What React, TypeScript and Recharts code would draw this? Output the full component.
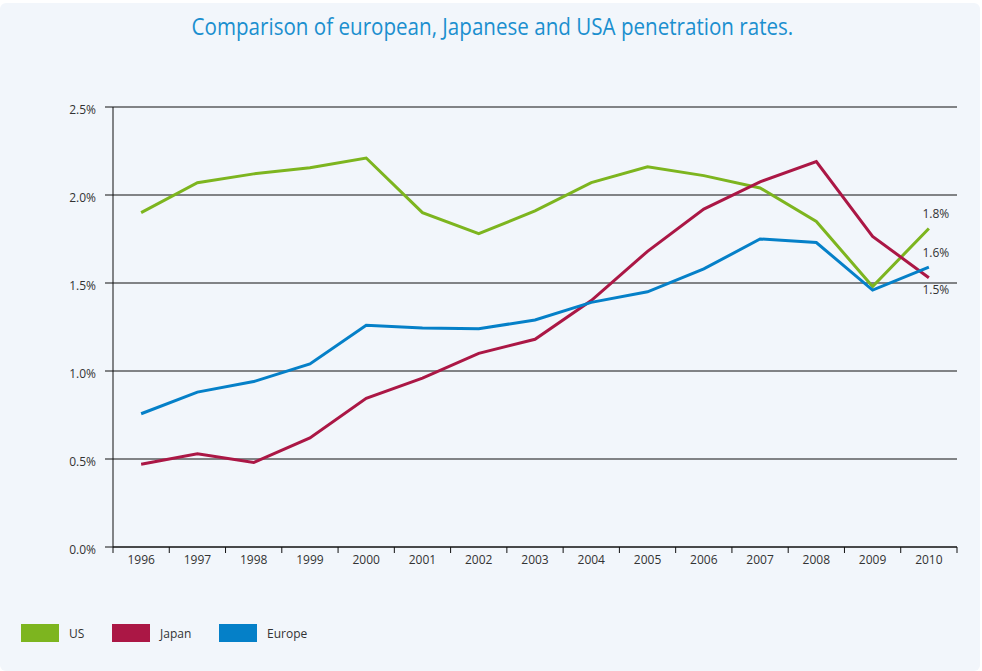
import React from 'react';
import { LineChart, Line, XAxis, YAxis, CartesianGrid, Legend } from 'recharts';

const years = ['1996', '1997', '1998', '1999', '2000', '2001', '2002', '2003', '2004', '2005', '2006', '2007', '2008', '2009', '2010'];
const usRates = [1.9, 2.07, 2.12, 2.155, 2.21, 1.9, 1.78, 1.91, 2.07, 2.16, 2.11, 2.04, 1.85, 1.48, 1.81];
const japanRates = [0.47, 0.53, 0.48, 0.62, 0.845, 0.96, 1.1, 1.18, 1.4, 1.68, 1.92, 2.075, 2.19, 1.765, 1.53];
const europeRates = [0.757, 0.88, 0.94, 1.04, 1.26, 1.245, 1.24, 1.29, 1.39, 1.45, 1.58, 1.75, 1.73, 1.46, 1.59];
const yTicks = [0, 0.5, 1, 1.5, 2, 2.5];
const seriesNames = { us: 'US', japan: 'Japan', europe: 'Europe' };
const endLabels = { us: '1.8%', japan: '1.5%', europe: '1.6%' };
const title = 'Comparison of european, Japanese and USA penetration rates.';

const COLORS = { us: '#7db51f', japan: '#ab1745', europe: '#0580c8' };
const TEXT = '#333333';
const FONT = '"Open Sans", "DejaVu Sans", sans-serif';

const W = 982;
const H = 671;
const MARGIN = { top: 107, right: 25, bottom: 94, left: 53 };
const Y_AXIS_W = 60;
const X_AXIS_H = 30;
const PLOT_W = W - MARGIN.left - Y_AXIS_W - MARGIN.right;
const BAND = PLOT_W / years.length;

const rows = years.map((year, i) => ({
  x: i + 0.5,
  year,
  us: usRates[i],
  japan: japanRates[i],
  europe: europeRates[i],
}));
const xTicks = Array.from({ length: years.length + 1 }, (_, i) => i);

const XTick = (props: any) => {
  const { x, y, payload } = props;
  const i = payload.value;
  if (i >= years.length) return null;
  return (
    <text x={x + BAND / 2} y={y} dy="0.75em" textAnchor="middle" fill={TEXT} fontSize={12} fontFamily={FONT}>
      {years[i]}
    </text>
  );
};

const YTick = (props: any) => {
  const { x, y, payload } = props;
  return (
    <text x={x} y={y} dy={7} textAnchor="end" fill={TEXT} fontSize={12} fontFamily={FONT}>
      {payload.value.toFixed(1) + '%'}
    </text>
  );
};

const endLabel = (text: string, offset: number) => (props: any) => {
  const { x, y, index } = props;
  if (index !== years.length - 1) return null;
  return (
    <text key="end" x={x + 7} y={y + offset} dy="0.35em" textAnchor="middle" fill={TEXT} fontSize={12} fontFamily={FONT}>
      {text}
    </text>
  );
};

const LegendContent = () => (
  <div style={{ display: 'flex', alignItems: 'center', fontFamily: FONT, fontSize: 12, color: TEXT }}>
    {(['us', 'japan', 'europe'] as const).map((k) => (
      <div key={k} style={{ display: 'flex', alignItems: 'center' }}>
        <span style={{ display: 'inline-block', width: 38, height: 18, background: COLORS[k] }} />
        <span style={{ marginLeft: 10, width: k === 'us' ? 43 : k === 'japan' ? 59 : 60 }}>{seriesNames[k]}</span>
      </div>
    ))}
  </div>
);

export default function App() {
  return (
    <div style={{ position: 'absolute', left: 0, top: 0, width: W, height: H, background: '#ffffff', overflow: 'hidden' }}>
      <div style={{ position: 'absolute', left: 0, top: 3, width: 980, height: 668, background: '#f2f6fb', borderRadius: 6 }} />
      <div
        style={{
          position: 'absolute',
          left: 0,
          top: 11,
          width: 985,
          textAlign: 'center',
          fontFamily: '"Open Sans", sans-serif',
          fontSize: 23,
          color: '#1b8fcf',
          lineHeight: '30px',
          transform: 'scaleX(0.895)',
          transformOrigin: '492px 50%',
        }}
      >
        {title}
      </div>
      <div style={{ position: 'absolute', left: 0, top: 0 }}>
        <LineChart width={W} height={H} data={rows} margin={MARGIN}>
          <CartesianGrid vertical={false} stroke="#111111" />
          <XAxis
            type="number"
            dataKey="x"
            domain={[0, years.length]}
            ticks={xTicks}
            interval={0}
            height={X_AXIS_H}
            tickSize={6}
            tickMargin={2}
            axisLine={{ stroke: '#111111' }}
            tickLine={{ stroke: '#111111' }}
            tick={<XTick />}
          />
          <YAxis
            type="number"
            domain={[0, 2.5]}
            ticks={yTicks}
            interval={0}
            width={Y_AXIS_W}
            tickSize={8}
            tickMargin={9}
            axisLine={{ stroke: '#111111' }}
            tickLine={{ stroke: '#111111' }}
            tick={<YTick />}
          />
          <Legend
            verticalAlign="middle"
            align="center"
            layout="horizontal"
            wrapperStyle={{ top: 624, left: 21, width: 400, height: 18 }}
            content={<LegendContent />}
          />
          <Line dataKey="us" name={seriesNames.us} stroke={COLORS.us} strokeWidth={3} dot={false} isAnimationActive={false} label={endLabel(endLabels.us, -15)} />
          <Line dataKey="japan" name={seriesNames.japan} stroke={COLORS.japan} strokeWidth={3} dot={false} isAnimationActive={false} label={endLabel(endLabels.japan, 12)} />
          <Line dataKey="europe" name={seriesNames.europe} stroke={COLORS.europe} strokeWidth={3} dot={false} isAnimationActive={false} label={endLabel(endLabels.europe, -14)} />
        </LineChart>
      </div>
    </div>
  );
}
